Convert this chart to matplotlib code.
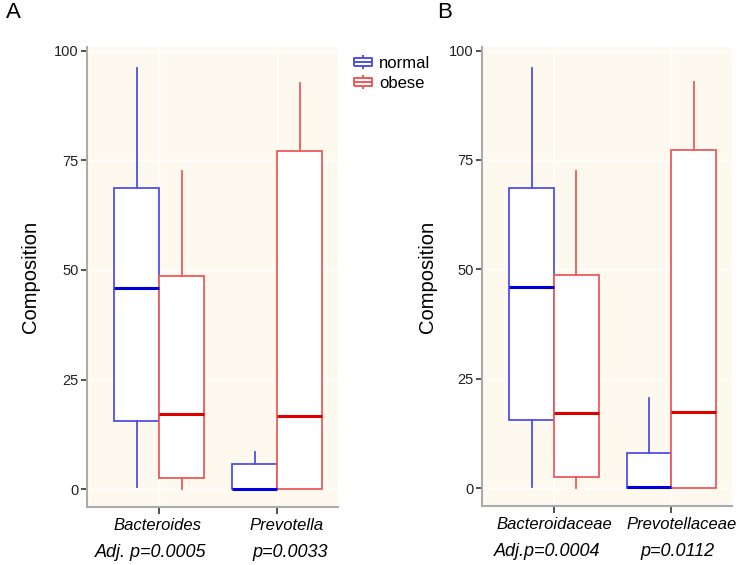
import matplotlib
matplotlib.use("Agg")
import matplotlib.pyplot as plt
from matplotlib.path import Path
from matplotlib.lines import Line2D

plt.rcParams['font.family'] = ['Liberation Sans', 'DejaVu Sans']

# ---------------- data ----------------
groups = ['normal', 'obese']
categories_A = ['Bacteroides', 'Prevotella']
pvals_A = ['Adj. p=0.0005', 'p=0.0033']
categories_B = ['Bacteroidaceae', 'Prevotellaceae']
pvals_B = ['Adj.p=0.0004', 'p=0.0112']
yticks = [0, 25, 50, 75, 100]

# each row: [whisker low, Q1, median, Q3, whisker high]
A_normal = [[0.5, 15.6, 46.0, 68.6, 96.1],
            [0.0, 0.0, 0.0, 5.9, 8.5]]
A_obese = [[0.2, 2.6, 17.1, 48.7, 72.6],
           [0.0, 0.0, 16.7, 77.1, 92.7]]
B_normal = [[0.4, 15.6, 45.9, 68.5, 95.9],
            [0.0, 0.0, 0.3, 8.2, 20.6]]
B_obese = [[0.2, 2.6, 17.2, 48.7, 72.5],
           [0.0, 0.0, 17.4, 77.3, 92.8]]

# ---------------- style ----------------
edge_colors = ['#4F4FE8', '#EE5A5A']
median_colors = ['#0000DD', '#DD0000']
bg = '#FDF9EE'
W = 0.38

fig = plt.figure(figsize=(7.39, 5.65), dpi=100)
axA = fig.add_axes([87/739, 1-507/565, 251/739, 460/565])
axB = fig.add_axes([482/739, 1-506/565, 250/739, 459/565])


def to_stats(rows, labels):
    out = []
    for r, lab in zip(rows, labels):
        out.append(dict(whislo=r[0], q1=r[1], med=r[2], q3=r[3], whishi=r[4],
                        fliers=[], label=lab))
    return out


def draw(ax, normal, obese, cats, pvals, lab_off, p_off, ylab_x):
    ax.set_facecolor(bg)
    ax.grid(True, color='white', linewidth=1.0, zorder=0)
    ax.set_axisbelow(True)
    xs = list(range(1, len(cats) + 1))
    for gi, series in enumerate([normal, obese]):
        pos = [x + (gi - 0.5) * W for x in xs]
        ax.bxp(to_stats(series, cats), positions=pos, widths=W,
               showcaps=False, showfliers=False, patch_artist=True,
               boxprops=dict(facecolor='white', edgecolor=edge_colors[gi], linewidth=1.3),
               whiskerprops=dict(color=edge_colors[gi], linewidth=1.3),
               medianprops=dict(color=median_colors[gi], linewidth=2.2),
               manage_ticks=False, zorder=3)
    ax.set_xlim(0.388, 2.515)
    ax.set_ylim(-4.0, 100.8)
    ax.set_xticks(xs)
    ax.set_xticklabels([])
    ax.set_yticks(yticks)
    ax.set_yticklabels([str(v) for v in yticks], fontsize=10.5, color='#222222')
    for s in ['top', 'right']:
        ax.spines[s].set_visible(False)
    for s in ['left', 'bottom']:
        ax.spines[s].set_color('#ABABAB')
        ax.spines[s].set_linewidth(1.5)
    ax.tick_params(axis='both', length=4, width=1.2, color='#333333', pad=2)
    ax.tick_params(axis='x', length=5)
    ax.set_ylabel('Composition', fontsize=14.5)
    ax.yaxis.set_label_coords(ylab_x, 0.5)
    tr = ax.get_xaxis_transform()
    for x, c, p, lo, po in zip(xs, cats, pvals, lab_off, p_off):
        ax.annotate(c, xy=(x, 0), xycoords=tr, xytext=(lo, -13), textcoords='offset points',
                    ha='center', va='center', fontsize=12, style='italic')
        ax.annotate(p, xy=(x, 0), xycoords=tr, xytext=(po, -33), textcoords='offset points',
                    ha='center', va='center', fontsize=13, style='italic')


draw(axA, A_normal, A_obese, categories_A, pvals_A, [-1.5, 7.0], [-6.5, 9.4], -0.187)
draw(axB, B_normal, B_obese, categories_B, pvals_B, [0.0, 7.3], [-4.7, 4.1], -0.18)

# legend with box-shaped icons
verts = [(-1, -0.5), (1, -0.5), (1, 0.5), (-1, 0.5), (-1, -0.5),
         (-1, 0), (1, 0),
         (0, 0.5), (0, 0.8),
         (0, -0.5), (0, -0.8)]
codes = [Path.MOVETO, Path.LINETO, Path.LINETO, Path.LINETO, Path.LINETO,
         Path.MOVETO, Path.LINETO,
         Path.MOVETO, Path.LINETO,
         Path.MOVETO, Path.LINETO]
icon = Path(verts, codes)
handles = [Line2D([], [], linestyle='none', marker=icon, markersize=12.5,
                  markerfacecolor='none', markeredgecolor=c, markeredgewidth=1.4)
           for c in edge_colors]
fig.legend(handles, groups, loc='upper left', bbox_to_anchor=(343/739, 1-44/565),
           frameon=False, fontsize=12, handlelength=1.0, handletextpad=0.45,
           labelspacing=0.3, borderpad=0.2)

fig.text(6/739, 1-12/565, 'A', fontsize=16, va='center', ha='left')
fig.text(437/739, 1-12/565, 'B', fontsize=16, va='center', ha='left')

fig.savefig('out.png', dpi=100, facecolor='white')
